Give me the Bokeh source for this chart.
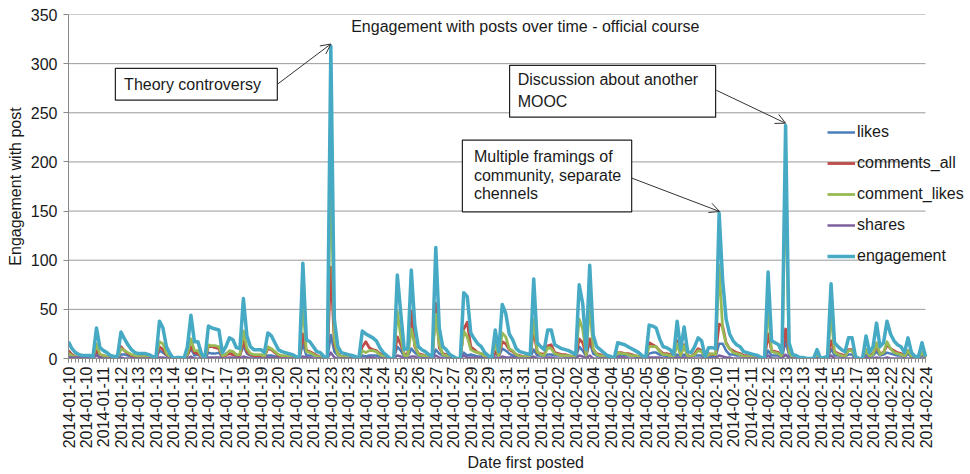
import math
from bokeh.plotting import figure
from bokeh.models import (Range1d, FixedTicker, Label, BoxAnnotation, Arrow, OpenHead, Title)
from bokeh.embed import file_html
from bokeh.resources import INLINE

xlabels = ["2014-01-10", "2014-01-10", "2014-01-11", "2014-01-12", "2014-01-13", "2014-01-13",
           "2014-01-14", "2014-01-16", "2014-01-17", "2014-01-17", "2014-01-19", "2014-01-19",
           "2014-01-20", "2014-01-20", "2014-01-21", "2014-01-23", "2014-01-23", "2014-01-24",
           "2014-01-24", "2014-01-25", "2014-01-26", "2014-01-27", "2014-01-27", "2014-01-29",
           "2014-01-29", "2014-01-31", "2014-01-31", "2014-02-01", "2014-02-02", "2014-02-02",
           "2014-02-04", "2014-02-04", "2014-02-05", "2014-02-05", "2014-02-06", "2014-02-07",
           "2014-02-09", "2014-02-10", "2014-02-11", "2014-02-11", "2014-02-12", "2014-02-13",
           "2014-02-13", "2014-02-14", "2014-02-15", "2014-02-17", "2014-02-18", "2014-02-22",
           "2014-02-22", "2014-02-24"]

yticks = [0, 50, 100, 150, 200, 250, 300, 350]

engagement = [
    17, 10, 6, 4, 3, 3, 3, 2, 31, 11,
    8, 6, 3, 2, 2, 27, 20, 14, 9, 6,
    5, 5, 5, 4, 2, 1, 38, 31, 12, 5,
    0, 1, 1, 0, 12, 44, 17, 17, 5, 0,
    33, 31, 30, 29, 6, 12, 21, 19, 11, 10,
    61, 23, 12, 9, 9, 9, 6, 26, 23, 16,
    9, 7, 6, 5, 4, 2, 0, 97, 19, 17,
    12, 7, 6, 2, 0, 318, 40, 12, 6, 5,
    4, 3, 2, 0, 28, 25, 23, 21, 18, 11,
    6, 3, 0, 0, 85, 46, 9, 10, 90, 34,
    12, 9, 7, 4, 2, 113, 31, 12, 9, 4,
    2, 0, 0, 67, 63, 26, 20, 15, 12, 6,
    3, 0, 29, 7, 55, 46, 25, 19, 10, 7,
    6, 5, 4, 81, 16, 12, 9, 29, 29, 14,
    12, 10, 9, 8, 6, 4, 75, 56, 9, 95,
    24, 12, 9, 6, 3, 2, 0, 16, 15, 14,
    12, 10, 8, 6, 3, 0, 34, 33, 31, 20,
    12, 11, 9, 4, 38, 9, 32, 7, 6, 12,
    21, 18, 2, 11, 11, 10, 148, 80, 40, 25,
    18, 14, 12, 7, 6, 5, 4, 3, 1, 0,
    88, 18, 16, 14, 6, 237, 16, 4, 3, 1,
    1, 0, 0, 0, 9, 0, 1, 2, 76, 16,
    12, 9, 7, 21, 21, 2, 0, 0, 23, 6,
    12, 36, 12, 16, 38, 25, 18, 14, 12, 6,
    21, 6, 2, 2, 16, 2]

comments_all = [
    8, 4, 2, 1, 1, 1, 1, 0, 8, 4,
    3, 2, 1, 1, 1, 12, 8, 5, 3, 2,
    2, 2, 2, 2, 1, 0, 12, 9, 4, 2,
    0, 0, 0, 0, 4, 12, 6, 5, 2, 0,
    12, 12, 11, 10, 2, 3, 5, 4, 3, 3,
    18, 7, 4, 3, 3, 3, 2, 10, 9, 6,
    3, 2, 2, 2, 1, 1, 0, 25, 8, 7,
    5, 3, 2, 1, 0, 93, 14, 5, 2, 2,
    2, 1, 1, 0, 12, 17, 11, 9, 8, 5,
    3, 1, 0, 0, 22, 14, 4, 5, 48, 12,
    5, 4, 3, 2, 1, 56, 11, 5, 4, 2,
    1, 0, 0, 30, 37, 12, 9, 6, 5, 3,
    1, 0, 7, 3, 17, 15, 9, 7, 4, 3,
    2, 2, 2, 30, 6, 5, 4, 13, 14, 6,
    5, 4, 4, 3, 2, 2, 20, 16, 4, 20,
    9, 5, 4, 2, 1, 1, 0, 6, 6, 5,
    5, 4, 3, 2, 1, 0, 16, 14, 12, 8,
    5, 5, 4, 2, 18, 4, 14, 3, 2, 5,
    10, 8, 1, 5, 4, 4, 35, 33, 16, 10,
    8, 6, 5, 3, 3, 2, 2, 1, 1, 0,
    25, 8, 7, 6, 3, 30, 7, 2, 1, 1,
    1, 0, 0, 0, 3, 0, 0, 1, 18, 7,
    5, 4, 3, 9, 9, 1, 0, 0, 9, 3,
    5, 12, 5, 6, 14, 10, 8, 6, 5, 3,
    8, 3, 1, 1, 6, 1]

comment_likes = [
    5, 3, 2, 1, 1, 1, 1, 1, 15, 4,
    3, 2, 1, 0, 0, 10, 8, 6, 4, 3,
    2, 2, 2, 1, 1, 1, 17, 15, 5, 2,
    0, 1, 1, 0, 5, 20, 8, 8, 2, 0,
    14, 13, 13, 12, 3, 4, 8, 7, 4, 4,
    28, 10, 5, 4, 4, 4, 2, 12, 10, 7,
    4, 3, 3, 2, 2, 1, 0, 55, 7, 6,
    4, 2, 2, 1, 0, 195, 18, 4, 2, 2,
    1, 1, 1, 0, 8, 6, 8, 8, 7, 4,
    2, 1, 0, 0, 48, 22, 3, 3, 30, 14,
    4, 3, 3, 1, 1, 45, 14, 4, 3, 1,
    1, 0, 0, 28, 22, 9, 7, 6, 5, 2,
    1, 0, 16, 2, 26, 22, 10, 8, 4, 2,
    2, 2, 1, 40, 7, 4, 3, 11, 10, 5,
    4, 3, 3, 3, 2, 1, 40, 30, 3, 55,
    10, 4, 3, 2, 1, 1, 0, 6, 5, 5,
    4, 3, 3, 2, 1, 0, 12, 12, 12, 7,
    4, 4, 3, 1, 15, 3, 13, 2, 2, 4,
    8, 7, 1, 4, 5, 4, 95, 30, 15, 10,
    6, 5, 4, 2, 2, 2, 1, 1, 0, 0,
    52, 7, 6, 5, 2, 185, 6, 1, 1, 0,
    0, 0, 0, 0, 4, 0, 1, 1, 45, 6,
    4, 3, 2, 8, 8, 1, 0, 0, 9, 2,
    4, 16, 4, 6, 17, 10, 6, 5, 4, 2,
    8, 2, 1, 1, 6, 1]

likes = [
    3, 2, 1, 1, 0, 0, 0, 0, 5, 2,
    2, 2, 1, 1, 1, 4, 4, 3, 2, 1,
    1, 1, 1, 1, 0, 0, 8, 6, 3, 1,
    0, 0, 0, 0, 3, 10, 3, 4, 1, 0,
    6, 5, 5, 6, 1, 5, 7, 7, 3, 3,
    13, 5, 3, 2, 2, 2, 2, 3, 3, 2,
    2, 2, 1, 1, 1, 0, 0, 15, 3, 3,
    3, 2, 2, 0, 0, 24, 7, 3, 2, 1,
    1, 1, 0, 0, 3, 2, 3, 3, 3, 2,
    1, 1, 0, 0, 12, 8, 2, 2, 10, 6,
    3, 2, 1, 1, 0, 9, 5, 3, 2, 1,
    0, 0, 0, 6, 3, 4, 3, 2, 2, 1,
    1, 0, 5, 2, 10, 8, 5, 3, 2, 2,
    2, 1, 1, 9, 3, 3, 2, 4, 4, 3,
    3, 3, 2, 2, 2, 1, 12, 8, 2, 17,
    5, 3, 2, 2, 1, 0, 0, 3, 3, 3,
    3, 3, 2, 2, 1, 0, 5, 6, 6, 4,
    3, 2, 2, 1, 4, 2, 4, 2, 2, 3,
    3, 3, 0, 2, 2, 2, 15, 15, 8, 4,
    4, 3, 3, 2, 1, 1, 1, 1, 0, 0,
    8, 3, 3, 3, 1, 18, 3, 1, 1, 0,
    0, 0, 0, 0, 2, 0, 0, 0, 10, 3,
    3, 2, 2, 4, 4, 0, 0, 0, 4, 1,
    3, 7, 3, 4, 6, 5, 4, 3, 3, 1,
    5, 1, 0, 0, 4, 0]

shares = [
    1, 1, 1, 1, 1, 1, 1, 1, 3, 1,
    0, 0, 0, 0, 0, 1, 0, 0, 0, 0,
    0, 0, 0, 0, 0, 0, 1, 1, 0, 0,
    0, 0, 0, 0, 0, 2, 0, 0, 0, 0,
    1, 1, 1, 1, 0, 0, 1, 1, 1, 0,
    2, 1, 0, 0, 0, 0, 0, 1, 1, 1,
    0, 0, 0, 0, 0, 0, 0, 2, 1, 1,
    0, 0, 0, 0, 0, 6, 1, 0, 0, 0,
    0, 0, 0, 0, 0, 0, 1, 1, 0, 0,
    0, 0, 0, 0, 3, 2, 0, 0, 2, 2,
    0, 0, 0, 0, 0, 3, 1, 0, 0, 0,
    0, 0, 0, 3, 1, 1, 1, 1, 0, 0,
    0, 0, 1, 0, 2, 1, 1, 1, 0, 0,
    0, 0, 0, 2, 0, 0, 0, 1, 1, 0,
    0, 0, 0, 0, 0, 0, 3, 2, 0, 3,
    0, 0, 0, 0, 0, 0, 0, 1, 1, 1,
    0, 0, 0, 0, 0, 0, 1, 1, 1, 1,
    0, 0, 0, 0, 1, 0, 1, 0, 0, 0,
    0, 0, 0, 0, 0, 0, 3, 2, 1, 1,
    0, 0, 0, 0, 0, 0, 0, 0, 0, 0,
    3, 0, 0, 0, 0, 4, 0, 0, 0, 0,
    0, 0, 0, 0, 0, 0, 0, 0, 3, 0,
    0, 0, 0, 0, 0, 0, 0, 0, 1, 0,
    0, 1, 0, 0, 1, 0, 0, 0, 0, 0,
    0, 0, 0, 0, 0, 0]

n = len(engagement)
idx = list(range(n))

FONT = "Liberation Sans"
FS = "16px"

W, H = 966, 470
LEFT, TOP = 68, 14
PLOT_RIGHT = 925  # where the last category sits
x_end = (n - 1) * (W - LEFT) / (PLOT_RIGHT - LEFT)

p = figure(width=W, height=H, output_backend="svg", toolbar_location=None,
           x_range=Range1d(0, x_end), y_range=Range1d(0, 350),
           min_border_left=LEFT, min_border_right=0, min_border_top=TOP, min_border_bottom=0)
p.outline_line_color = None
p.background_fill_color = "white"
p.border_fill_color = "white"
p.xgrid.visible = False
p.ygrid.visible = False

# horizontal gridlines limited to the category span
p.segment(x0=[0] * len(yticks), x1=[n - 1] * len(yticks), y0=yticks, y1=yticks,
          line_color="#9a9a9a", line_width=1)

# y axis
p.yaxis.ticker = FixedTicker(ticks=yticks)
p.yaxis.axis_line_color = "#8a8a8a"
p.yaxis.major_tick_line_color = "#8a8a8a"
p.yaxis.major_tick_out = 5
p.yaxis.major_tick_in = 0
p.yaxis.minor_tick_line_color = None
p.yaxis.major_label_standoff = 6
p.yaxis.major_label_text_font = FONT
p.yaxis.major_label_text_font_size = FS
p.yaxis.major_label_text_color = "#1a1a1a"
p.yaxis.axis_label = "Engagement with post"
p.yaxis.axis_label_text_font = FONT
p.yaxis.axis_label_text_font_size = FS
p.yaxis.axis_label_text_font_style = "normal"
p.yaxis.axis_label_text_color = "#1a1a1a"
p.yaxis.axis_label_standoff = 4

# x axis
p.xaxis.ticker = FixedTicker(ticks=list(range(0, n, 5)), minor_ticks=idx)
p.xaxis.bounds = (0, n - 1)
p.xaxis.major_label_overrides = {i * 5: lab for i, lab in enumerate(xlabels)}
p.xaxis.major_label_orientation = math.pi / 2
p.xaxis.axis_line_color = "#8a8a8a"
p.xaxis.major_tick_line_color = "#8a8a8a"
p.xaxis.minor_tick_line_color = "#8a8a8a"
p.xaxis.major_tick_out = 4
p.xaxis.major_tick_in = 0
p.xaxis.minor_tick_out = 4
p.xaxis.minor_tick_in = 0
p.xaxis.major_label_standoff = 4
p.xaxis.major_label_text_font = FONT
p.xaxis.major_label_text_font_size = FS
p.xaxis.major_label_text_color = "#1a1a1a"

xt = Title(text="Date first posted", align="left", offset=399, standoff=0,
           text_font=FONT, text_font_size=FS, text_font_style="normal", text_color="#1a1a1a")
p.add_layout(xt, "below")

series = [
    ("likes", likes, "#4A7EBB", 2.5),
    ("comments_all", comments_all, "#BE4B48", 2.8),
    ("comment_likes", comment_likes, "#98B954", 2.8),
    ("shares", shares, "#7D60A0", 2.5),
    ("engagement", engagement, "#46AAC5", 3.5),
]
for name, vals, col, lw in series:
    p.line(idx, vals, line_color=col, line_width=lw, legend_label=name, line_join="round")

lg = p.legend[0]
lg.location = (759, 92)
lg.padding = 0
lg.margin = 0
lg.spacing = 11
lg.label_height = 20
lg.glyph_height = 20
lg.glyph_width = 28
lg.label_standoff = 2
lg.border_line_color = None
lg.background_fill_alpha = 0
lg.label_text_font = FONT
lg.label_text_font_size = FS
lg.label_text_color = "#1a1a1a"

# chart title (inside plot)
p.add_layout(Label(x=130.6, y=337.8, text="Engagement with posts over time - official course",
                   text_align="center", text_baseline="middle", text_font=FONT,
                   text_font_size=FS, text_color="#1a1a1a"))

# annotation boxes
def box(l, r, t, b):
    p.add_layout(BoxAnnotation(left=l, right=r, top=t, bottom=b, fill_color="white", fill_alpha=1,
                               line_color="#222222", line_alpha=1, line_width=1.2,
                               level="annotation"))

def txt(x, y, s):
    p.add_layout(Label(x=x, y=y, text=s, text_align="left", text_baseline="middle",
                       text_font=FONT, text_font_size=FS, text_color="#1a1a1a"))

def arrow(x0, y0, x1, y1):
    p.add_layout(Arrow(end=OpenHead(size=10, line_width=1, line_color="#333333"),
                       x_start=x0, y_start=y0, x_end=x1, y_end=y1,
                       line_color="#333333", line_width=1))

arrow(59.7, 279, 75.0, 320)
box(13.4, 59.7, 295.2, 262.8)
txt(15.9, 279, "Theory controversy")

arrow(185.2, 272.9, 205.0, 239.4)
box(126.1, 185.0, 298.3, 245.5)
txt(128.4, 284.0, "Discussion about another")
txt(128.4, 261.7, "MOOC")

arrow(161.0, 183.6, 186.1, 149.6)
box(112.6, 161.0, 222.2, 149.1)
txt(115.9, 205.2, "Multiple  framings of")
txt(115.9, 185.9, "community, separate")
txt(115.9, 167.4, "chennels")

open("out.html", "w").write(file_html(p, INLINE))
